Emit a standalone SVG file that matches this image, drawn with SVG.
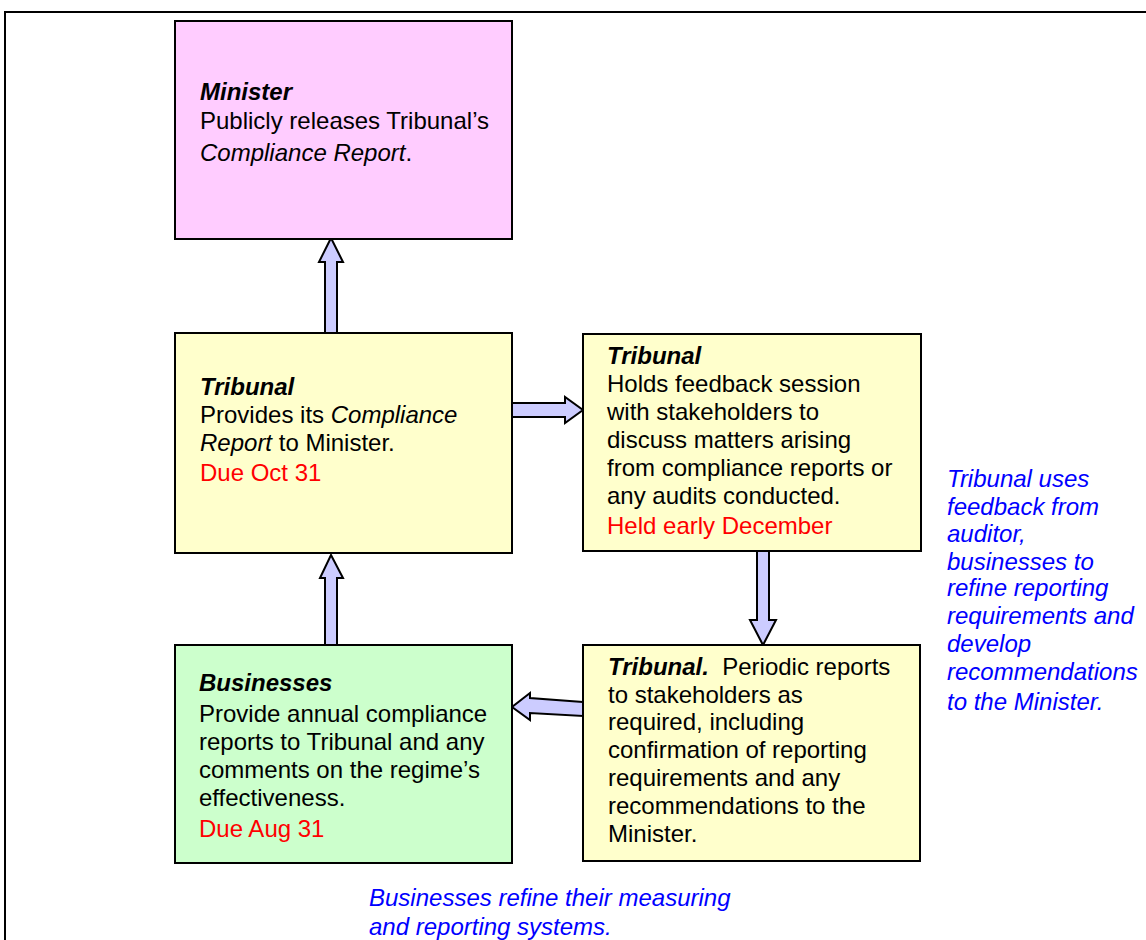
<svg xmlns="http://www.w3.org/2000/svg" width="1146" height="940" viewBox="0 0 1146 940">
<style>
text{font-family:"Liberation Sans",Arial,sans-serif;font-size:24px;fill:#000}
.box{stroke:#000;stroke-width:2}
.pink{fill:#FFCCFF}.yel{fill:#FFFFCC}.grn{fill:#CCFFCC}
.b{font-weight:bold;font-style:italic}
.i{font-style:italic}
.red{fill:#FF0000}
.blue{fill:#0000FF;font-style:italic}
.arr{fill:#CCCCFF;stroke:#000;stroke-width:2;stroke-linejoin:miter}
</style>
<rect width="1146" height="940" fill="#fff"/>
<g id="frame"><path d="M5,940 V12 H1146" fill="none" stroke="#000" stroke-width="2"/></g>
<g id="connectors">
<polygon class="arr" points="325,333 325,262 319,262 331,238 343,262 337,262 337,333"/>
<polygon class="arr" points="512,403 565,403 565,397 583,410 565,423 565,417 512,417"/>
<polygon class="arr" points="757,551 769,551 769,620 776,620 763,645 750,620 757,620"/>
<polygon class="arr" points="583,702 530,698 530,693 512,707 530,720 530,713 583,716"/>
<polygon class="arr" points="325,645 325,578 320,578 331,555 343,578 337,578 337,645"/>
</g>
<g id="minister">
<rect class="box pink" x="175" y="21" width="337" height="218"/>
<text x="200" y="100" class="b">Minister</text>
<text x="200" y="129">Publicly releases Tribunal’s</text>
<text x="200" y="161"><tspan class="i">Compliance Report</tspan>.</text>
</g>
<g id="tribunal-report">
<rect class="box yel" x="175" y="333" width="337" height="220"/>
<text x="200" y="395" class="b">Tribunal</text>
<text x="200" y="423">Provides its <tspan class="i">Compliance</tspan></text>
<text x="200" y="451"><tspan class="i">Report</tspan> to Minister.</text>
<text x="200" y="481" class="red">Due Oct 31</text>
</g>
<g id="tribunal-feedback">
<rect class="box yel" x="583" y="334" width="338" height="217"/>
<text x="607" y="364" class="b">Tribunal</text>
<text x="607" y="392">Holds feedback session</text>
<text x="607" y="420">with stakeholders to</text>
<text x="607" y="448">discuss matters arising</text>
<text x="607" y="476">from compliance reports or</text>
<text x="607" y="504">any audits conducted.</text>
<text x="607" y="534" class="red">Held early December</text>
</g>
<g id="tribunal-periodic">
<rect class="box yel" x="583" y="645" width="337" height="216"/>
<text x="608" y="675"><tspan class="b">Tribunal.</tspan>&#160; Periodic reports</text>
<text x="608" y="703">to stakeholders as</text>
<text x="608" y="730">required, including</text>
<text x="608" y="758">confirmation of reporting</text>
<text x="608" y="786">requirements and any</text>
<text x="608" y="814">recommendations to the</text>
<text x="608" y="842">Minister.</text>
</g>
<g id="businesses">
<rect class="box grn" x="175" y="645" width="337" height="218"/>
<text x="199" y="691" class="b">Businesses</text>
<text x="199" y="722">Provide annual compliance</text>
<text x="199" y="750">reports to Tribunal and any</text>
<text x="199" y="778">comments on the regime’s</text>
<text x="199" y="806">effectiveness.</text>
<text x="199" y="837" class="red">Due Aug 31</text>
</g>
<g id="note-tribunal">
<text x="947" y="487" class="blue">Tribunal uses</text>
<text x="947" y="515" class="blue">feedback from</text>
<text x="947" y="542" class="blue">auditor,</text>
<text x="947" y="570" class="blue">businesses to</text>
<text x="947" y="596" class="blue">refine reporting</text>
<text x="947" y="624" class="blue">requirements and</text>
<text x="947" y="652" class="blue">develop</text>
<text x="947" y="680" class="blue">recommendations</text>
<text x="947" y="710" class="blue">to the Minister.</text>
</g>
<g id="note-businesses">
<text x="369" y="906" class="blue">Businesses refine their measuring</text>
<text x="369" y="935" class="blue">and reporting systems.</text>
</g>
</svg>
